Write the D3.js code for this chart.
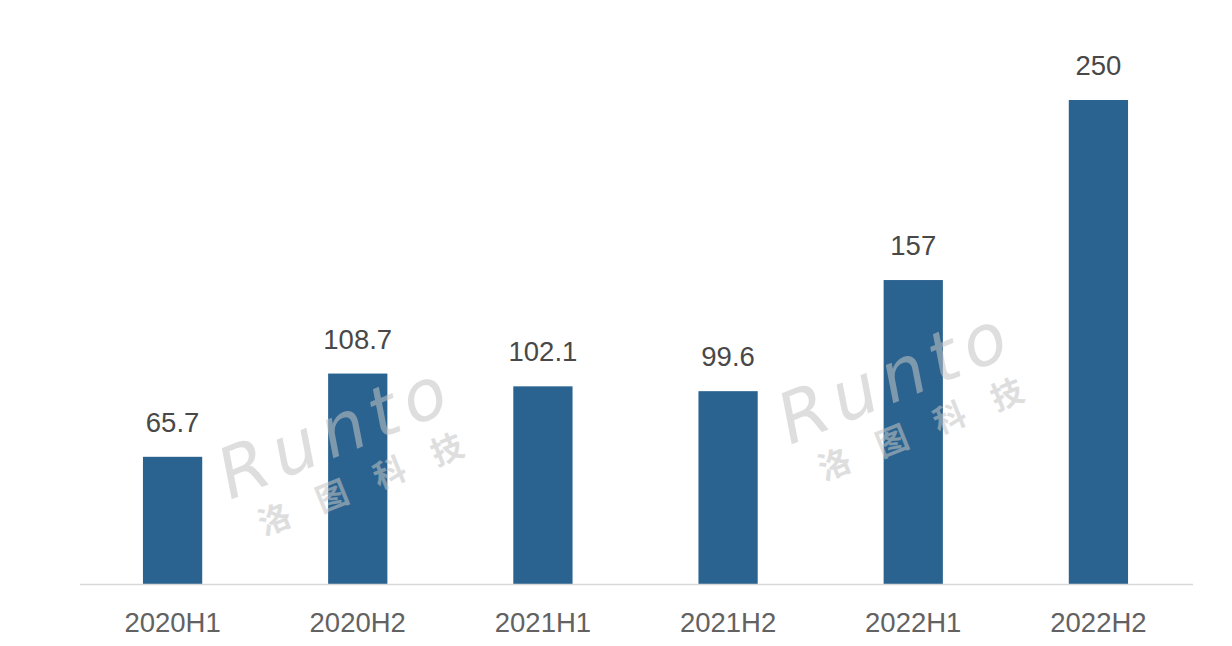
<!DOCTYPE html>
<html>
<head>
<meta charset="utf-8">
<script src="https://cdn.jsdelivr.net/npm/d3@7"></script>
<style>
  html, body { margin: 0; padding: 0; background: #ffffff; }
  svg { display: block; }
</style>
</head>
<body>
<svg id="chart" width="1232" height="646"></svg>
<script>
const categories = ["2020H1", "2020H2", "2021H1", "2021H2", "2022H1", "2022H2"];
const values = [65.7, 108.7, 102.1, 99.6, 157, 250];
const valueLabels = ["65.7", "108.7", "102.1", "99.6", "157", "250"];

const svg = d3.select("#chart");
const font = "'Liberation Sans', Arial, Helvetica, sans-serif";

const x = d3.scaleBand()
  .domain(categories)
  .range([80, 1191])
  .paddingInner(0.68)
  .paddingOuter(0.34);

const y = d3.scaleLinear()
  .domain([0, 250])
  .range([584, 100]);

// bars
svg.append("g").selectAll("rect")
  .data(values)
  .join("rect")
  .attr("x", (d, i) => x(categories[i]))
  .attr("y", d => y(d))
  .attr("width", x.bandwidth())
  .attr("height", d => y(0) - y(d))
  .attr("fill", "#2a6390");

// axis line
const axis = d3.axisBottom(x).tickSize(0).tickPadding(0);
const gx = svg.append("g")
  .attr("transform", `translate(0,${y(0) + 0.5})`)
  .call(axis);
gx.select(".domain")
  .attr("d", "M80,0H1193")
  .attr("stroke", "#d9d9d9")
  .attr("stroke-width", 1.5);
gx.selectAll(".tick text")
  .attr("y", 47.5)
  .attr("dy", null)
  .attr("font-family", font)
  .attr("font-size", 27.5)
  .attr("fill", "#626262");

// value labels
svg.append("g").selectAll("text")
  .data(values)
  .join("text")
  .attr("x", (d, i) => x(categories[i]) + x.bandwidth() / 2)
  .attr("y", d => y(d) - 25)
  .attr("text-anchor", "middle")
  .attr("font-family", font)
  .attr("font-size", 27.5)
  .attr("fill", "#484848")
  .text((d, i) => valueLabels[i]);

// watermarks
const marks = [[230, 500], [790, 445]];
marks.forEach(([mx, my]) => {
  const g = svg.append("g")
    .attr("transform", `translate(${mx},${my}) rotate(-22)`)
    .attr("opacity", 0.55);
  g.append("text")
    .attr("x", 0).attr("y", 0)
    .attr("font-family", "'DejaVu Sans', sans-serif")
    .attr("font-size", 70)
    .attr("font-style", "italic")
    .attr("letter-spacing", 8)
    .attr("fill", "#c4c4c4")
    .text("Runto");
  g.append("text")
    .attr("x", 18).attr("y", 46)
    .attr("font-family", "'Noto Sans CJK SC', sans-serif")
    .attr("font-size", 32)
    .attr("font-weight", "bold")
    .attr("letter-spacing", 30)
    .attr("fill", "#c4c4c4")
    .text("洛图科技");
});
</script>
</body>
</html>
